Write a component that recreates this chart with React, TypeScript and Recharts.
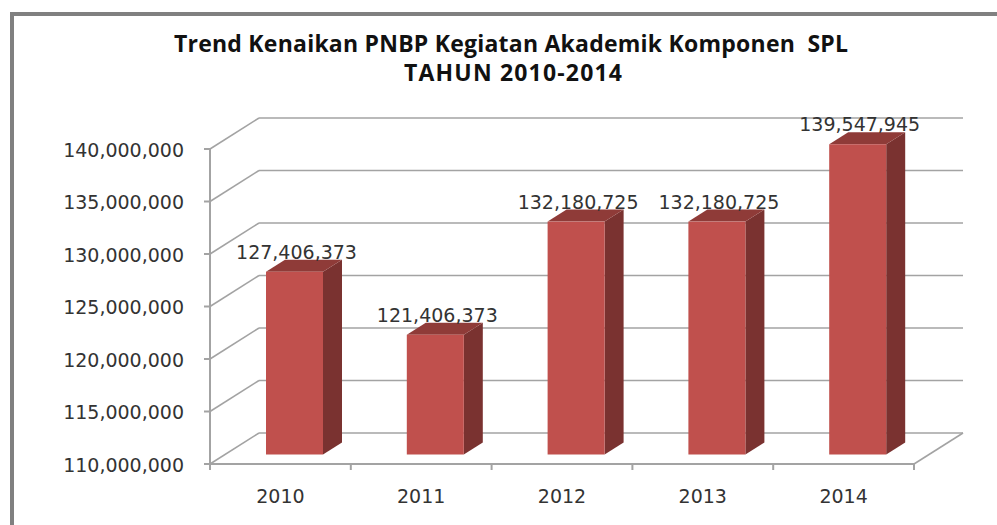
import { Bar, BarChart, CartesianGrid, XAxis, YAxis } from "recharts";

const years = ["2010", "2011", "2012", "2013", "2014"];
const values = [127406373, 121406373, 132180725, 132180725, 139547945];
const yTicks = [110000000, 115000000, 120000000, 125000000, 130000000, 135000000, 140000000];
const titleLines = ["Trend Kenaikan PNBP Kegiatan Akademik Komponen  SPL", "TAHUN 2010-2014"];

const data = years.map((year, i) => ({ year, value: values[i] }));

const LINE = "#a3a3a3";
const TEXT = "#333333";
const FONT = "'DejaVu Sans', sans-serif";
const TITLE_FONT = "'Open Sans', sans-serif";
// fake 3d offsets: wall depth, and where the bars stand inside it
const WALL_X = 49;
const WALL_Y = -31;
const BAR_X = 14;
const BAR_Y = -9.5;
const SIDE_X = 19;
const SIDE_Y = -12;

function WallLine(props: any) {
  const { x1, x2, y1, index } = props;
  return (
    <g key={`wall-${index}-${y1}`}>
      <line x1={x1} y1={y1} x2={x1 + WALL_X} y2={y1 + WALL_Y} stroke={LINE} strokeWidth={1.6} />
      <line x1={x1 + WALL_X} y1={y1 + WALL_Y} x2={x2 + WALL_X} y2={y1 + WALL_Y} stroke={LINE} strokeWidth={1.6} />
      {y1 > 460 && (
        <line x1={x2} y1={y1} x2={x2 + WALL_X} y2={y1 + WALL_Y} stroke={LINE} strokeWidth={1.6} />
      )}
    </g>
  );
}

function Bar3D(props: any) {
  const { x, y, width, height } = props;
  const left = x + BAR_X;
  const right = left + width;
  const top = y + BAR_Y;
  const bottom = top + height;
  return (
    <g>
      <polygon
        points={`${right},${top} ${right + SIDE_X},${top + SIDE_Y} ${right + SIDE_X},${bottom + SIDE_Y} ${right},${bottom}`}
        fill="#7a3230"
      />
      <polygon
        points={`${left},${top} ${left + SIDE_X},${top + SIDE_Y} ${right + SIDE_X},${top + SIDE_Y} ${right},${top}`}
        fill="#8f3b38"
      />
      <rect x={left} y={top} width={width} height={height} fill="#c0504d" />
    </g>
  );
}

function ValueLabel(props: any) {
  const { x, y, width, value } = props;
  return (
    <text
      x={x + width / 2 + BAR_X + 2}
      y={y + BAR_Y - 13}
      textAnchor="middle"
      fontFamily={FONT}
      fontSize={19}
      fill={TEXT}
    >
      {Number(value).toLocaleString("en-US")}
    </text>
  );
}

// excel puts the category ticks between the bars, not under them
function YearTick(props: any) {
  const { x, y, width, index, payload } = props;
  const half = width / years.length / 2;
  const axisY = y - 25;
  const mark = (at: number) => (
    <line x1={at} y1={axisY} x2={at} y2={axisY + 6} stroke={LINE} strokeWidth={2} />
  );
  return (
    <g>
      {mark(x - half)}
      {index === years.length - 1 && mark(x + half)}
      <text x={x} y={y + 14} textAnchor="middle" fontFamily={FONT} fontSize={19} fill={TEXT}>
        {payload.value}
      </text>
    </g>
  );
}

export default function App() {
  return (
    <div style={{ position: "absolute", left: 0, top: 0, width: 997, height: 525, background: "#fff" }}>
      <div
        style={{
          position: "absolute",
          left: 10,
          top: 12,
          width: 987,
          height: 513,
          boxSizing: "border-box",
          borderTop: "4px solid #808080",
          borderLeft: "4px solid #808080",
        }}
      />
      <BarChart
        width={997}
        height={525}
        data={data}
        barSize={57}
        margin={{ top: 149, right: 83, bottom: 0, left: 0 }}
        style={{ position: "absolute", left: 0, top: 0 }}
      >
        <text
          x={511}
          y={52}
          textAnchor="middle"
          fontFamily={TITLE_FONT}
          fontWeight={700}
          fontSize={23}
          fill="#111"
          textLength={674}
          style={{ whiteSpace: "pre" }}
        >
          {titleLines[0]}
        </text>
        <text
          x={513}
          y={81}
          textAnchor="middle"
          fontFamily={TITLE_FONT}
          fontWeight={700}
          fontSize={23}
          fill="#111"
          textLength={218}
        >
          {titleLines[1]}
        </text>
        <CartesianGrid vertical={false} horizontal={WallLine as any} />
        <XAxis
          dataKey="year"
          height={61}
          tickSize={6}
          tickMargin={19}
          axisLine={{ stroke: LINE, strokeWidth: 2 }}
          tickLine={false}
          tick={YearTick}
        />
        <YAxis
          width={210}
          domain={[110000000, 140000000]}
          ticks={yTicks}
          interval={0}
          tickSize={6}
          tickMargin={20}
          tickFormatter={(v: number) => v.toLocaleString("en-US")}
          axisLine={{ stroke: LINE, strokeWidth: 2 }}
          tickLine={{ stroke: LINE, strokeWidth: 2 }}
          tick={{ fontFamily: FONT, fontSize: 19, fill: TEXT, dy: 1 }}
        />
        <Bar dataKey="value" shape={Bar3D} label={ValueLabel} isAnimationActive={false} />
      </BarChart>
    </div>
  );
}
